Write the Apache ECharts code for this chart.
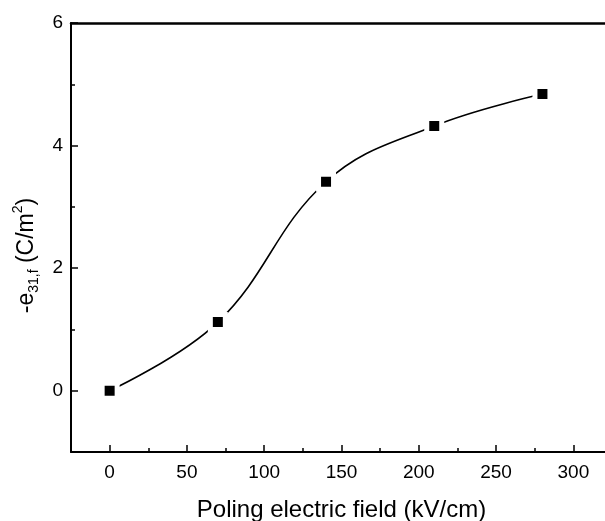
<!DOCTYPE html>
<html>
<head>
<meta charset="utf-8">
<script src="https://cdn.jsdelivr.net/npm/echarts@6/dist/echarts.min.js"></script>
<style>html,body{margin:0;padding:0;background:#fff;}#c{width:605px;height:521px;}</style>
</head>
<body>
<div id="c"></div>
<script>
// Data
const fieldKV = [0, 70, 140, 210, 280];
const e31f = [0, 1.12, 3.41, 4.32, 4.84];
const xMajorTicks = [0, 50, 100, 150, 200, 250, 300];
const xMinorTicks = [25, 75, 125, 175, 225, 275];
const yMajorTicks = [0, 2, 4, 6];
const yMinorTicks = [-1, 1, 3, 5];
const xTitle = 'Poling electric field (kV/cm)';

const FONT = '"Liberation Sans", Arial, Helvetica, sans-serif';
const chart = echarts.init(document.getElementById('c'), null, {renderer: 'canvas'});

const xBase = {type: 'value', min: -25, max: 325, splitLine: {show: false}};
const yBase = {type: 'value', min: -1, max: 6, splitLine: {show: false}};

chart.setOption({
  animation: false,
  backgroundColor: '#fff',
  grid: {left: 71, top: 23, width: 541, height: 429, outerBoundsMode: 'none', containLabel: false, show: false},
  xAxis: [
    Object.assign({}, xBase, {
      position: 'bottom',
      axisLine: {show: true, onZero: false, lineStyle: {color: '#000', width: 2}},
      axisTick: {show: true, inside: true, length: 7, customValues: xMajorTicks, lineStyle: {color: '#000', width: 1.5}},
      axisLabel: {show: true, customValues: xMajorTicks, margin: 11, color: '#000', fontFamily: FONT, fontSize: 19},
      name: xTitle, nameLocation: 'middle', nameGap: 46,
      nameTextStyle: {color: '#000', fontFamily: FONT, fontSize: 24}
    }),
    Object.assign({}, xBase, {
      position: 'bottom',
      axisLine: {show: false, onZero: false},
      axisTick: {show: true, inside: true, length: 4, customValues: xMinorTicks, lineStyle: {color: '#000', width: 1.5}},
      axisLabel: {show: false}
    }),
    Object.assign({}, xBase, {
      position: 'top',
      axisLine: {show: true, onZero: false, lineStyle: {color: '#000', width: 2.5}},
      axisTick: {show: false},
      axisLabel: {show: false}
    })
  ],
  yAxis: [
    Object.assign({}, yBase, {
      position: 'left',
      axisLine: {show: true, onZero: false, lineStyle: {color: '#000', width: 2}},
      axisTick: {show: true, inside: true, length: 7, customValues: yMajorTicks, lineStyle: {color: '#000', width: 1.5}},
      axisLabel: {show: true, customValues: yMajorTicks, margin: 8, color: '#000', fontFamily: FONT, fontSize: 19},
      name: '-e{sub|31,f} (C/m{sup|2})', nameLocation: 'middle', nameGap: 24, nameRotate: 90,
      nameTextStyle: {
        color: '#000', fontFamily: FONT, fontSize: 23, lineHeight: 30, padding: [0, 36, 0, 0],
        rich: {
          sub: {fontFamily: FONT, fontSize: 14, lineHeight: 14, verticalAlign: 'bottom', color: '#000'},
          sup: {fontFamily: FONT, fontSize: 14, lineHeight: 14, verticalAlign: 'top', color: '#000'}
        }
      }
    }),
    Object.assign({}, yBase, {
      position: 'left',
      axisLine: {show: false, onZero: false},
      axisTick: {show: true, inside: true, length: 4, customValues: yMinorTicks, lineStyle: {color: '#000', width: 1.5}},
      axisLabel: {show: false}
    })
  ],
  series: [{
    type: 'line',
    xAxisIndex: 0, yAxisIndex: 0,
    data: fieldKV.map((x, i) => [x, e31f[i]]),
    smooth: 0.4,
    lineStyle: {color: '#000', width: 1.6},
    symbol: 'rect', symbolSize: 15,
    itemStyle: {color: '#000', borderColor: '#fff', borderWidth: 5},
    emphasis: {disabled: true}
  }]
});
</script>
</body>
</html>
